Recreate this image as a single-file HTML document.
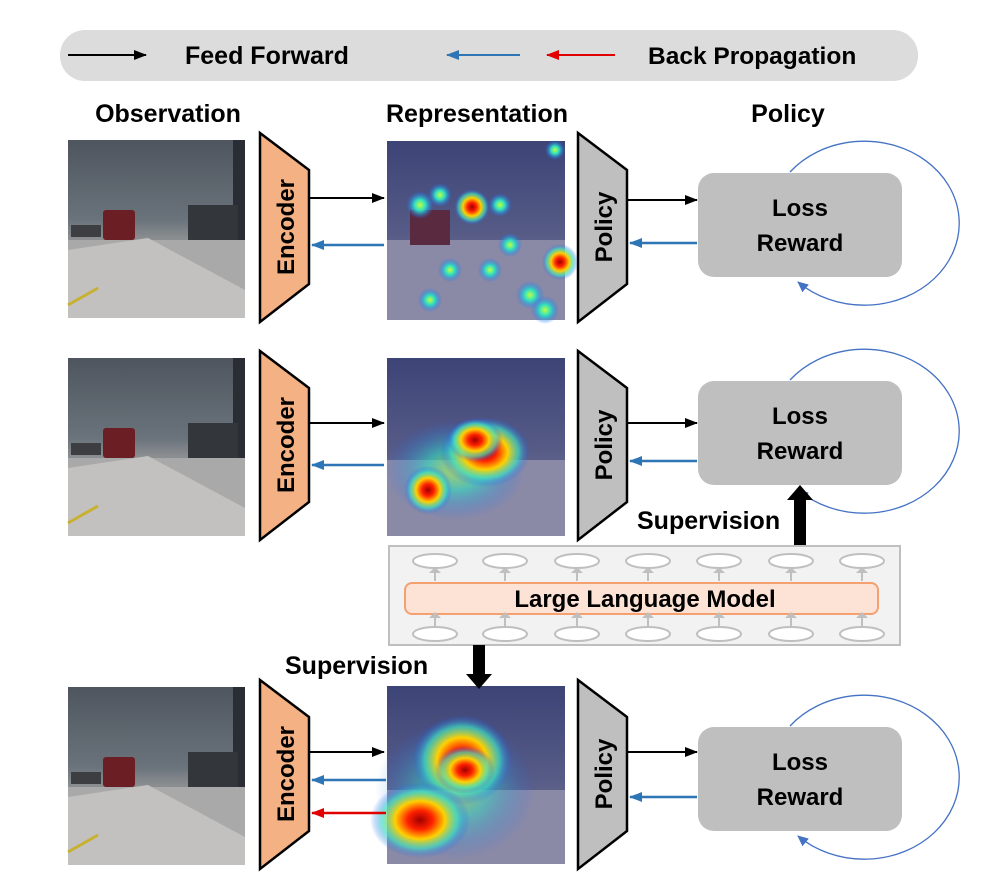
<!DOCTYPE html>
<html><head><meta charset="utf-8"><style>
html,body{margin:0;padding:0;background:#fff;}
svg{display:block;font-family:"Liberation Sans",Arial,sans-serif;}
</style></head><body>
<svg width="996" height="895" viewBox="0 0 996 895" xmlns="http://www.w3.org/2000/svg">
<defs>
<marker id="ab" markerWidth="14" markerHeight="10" refX="12" refY="5" orient="auto" markerUnits="userSpaceOnUse"><path d="M0,0 L13,5 L0,10 Z" fill="#2e75b6"/></marker>
<marker id="ar" markerWidth="14" markerHeight="10" refX="12" refY="5" orient="auto" markerUnits="userSpaceOnUse"><path d="M0,0 L13,5 L0,10 Z" fill="#e00000"/></marker>
<marker id="ablk" markerWidth="14" markerHeight="10" refX="12" refY="5" orient="auto" markerUnits="userSpaceOnUse"><path d="M0,0 L13,5 L0,10 Z" fill="#000"/></marker>
<marker id="ac" markerWidth="12" markerHeight="10" refX="10" refY="5" orient="auto" markerUnits="userSpaceOnUse"><path d="M0,0 L11,5 L0,10 Z" fill="#4472c4"/></marker>
<linearGradient id="sky" x1="0" y1="0" x2="0" y2="1">
<stop offset="0" stop-color="#4e555e"/><stop offset="0.45" stop-color="#6a737b"/><stop offset="0.55" stop-color="#8a8d90"/><stop offset="1" stop-color="#b8b8b8"/></linearGradient>
<linearGradient id="hsky" x1="0" y1="0" x2="0" y2="1">
<stop offset="0" stop-color="#3d4476"/><stop offset="0.5" stop-color="#555a86"/><stop offset="1" stop-color="#7f7f98"/></linearGradient>
<radialGradient id="hot"><stop offset="0" stop-color="#a00000"/><stop offset="0.25" stop-color="#ff2000"/><stop offset="0.5" stop-color="#ffd000"/><stop offset="0.75" stop-color="#40e0c0" stop-opacity="0.7"/><stop offset="1" stop-color="#2050ff" stop-opacity="0"/></radialGradient>
<radialGradient id="cool"><stop offset="0" stop-color="#c0ff40"/><stop offset="0.4" stop-color="#30e0c0"/><stop offset="1" stop-color="#2060ff" stop-opacity="0"/></radialGradient>
<g id="road">
<rect width="177" height="178" fill="url(#sky)"/>
<path d="M0,100 L177,100 L177,178 L0,178 Z" fill="#a9a9a9"/>
<path d="M0,110 L80,98 L177,150 L177,178 L0,178Z" fill="#c2c1c0"/>
<rect x="165" y="0" width="12" height="100" fill="#2a2d33"/>
<rect x="120" y="65" width="50" height="35" fill="#33363b"/>
<rect x="3" y="85" width="30" height="12" fill="#3c3e42"/>
<rect x="35" y="70" width="32" height="30" rx="3" fill="#6b1f25"/>
<path d="M0,165 L30,148" stroke="#c8b030" stroke-width="3"/>
</g>
<g id="pieces">
<path d="M260,133 L309,170 L309,284 L260,322 Z" fill="#f4b183" stroke="#000" stroke-width="2.5"/>
<text transform="translate(294,227) rotate(-90)" font-size="24" font-weight="bold" text-anchor="middle">Encoder</text>
<path d="M578,133 L627,170 L627,284 L578,322 Z" fill="#bfbfbf" stroke="#000" stroke-width="2.5"/>
<text transform="translate(612,227) rotate(-90)" font-size="24" font-weight="bold" text-anchor="middle">Policy</text>
</g>
</defs>

<rect x="60" y="30" width="858" height="51" rx="25" fill="#dcdcdc"/>
<line x1="68" y1="55" x2="146" y2="55" stroke="#000" stroke-width="2" marker-end="url(#ablk)"/>
<text x="185" y="64" font-size="25" font-weight="bold">Feed Forward</text>
<line x1="520" y1="55" x2="447" y2="55" stroke="#2e75b6" stroke-width="2" marker-end="url(#ab)"/>
<line x1="615" y1="55" x2="547" y2="55" stroke="#e00000" stroke-width="2" marker-end="url(#ar)"/>
<text x="648" y="64" font-size="24.5" font-weight="bold">Back Propagation</text>

<text x="168" y="122" font-size="25" font-weight="bold" text-anchor="middle">Observation</text>
<text x="477" y="122" font-size="25" font-weight="bold" text-anchor="middle">Representation</text>
<text x="788" y="122" font-size="25" font-weight="bold" text-anchor="middle">Policy</text>

<use href="#road" x="68" y="140"/><use href="#pieces"/>
<g transform="translate(0,218)"><use href="#road" x="68" y="140"/><use href="#pieces"/></g>
<g transform="translate(0,547)"><use href="#road" x="68" y="140"/><use href="#pieces"/></g>

<!-- heatmaps -->
<g>
<rect x="387" y="141" width="178" height="179" fill="url(#hsky)"/>
<path d="M387,240 L565,240 L565,320 L387,320Z" fill="#8a8aa6"/>
<rect x="410" y="210" width="40" height="35" fill="#5a2a40"/>
<circle cx="472" cy="207" r="18" fill="url(#hot)"/>
<circle cx="560" cy="262" r="18" fill="url(#hot)"/>
<circle cx="420" cy="205" r="14" fill="url(#cool)"/><circle cx="440" cy="195" r="12" fill="url(#cool)"/>
<circle cx="500" cy="205" r="12" fill="url(#cool)"/><circle cx="510" cy="245" r="12" fill="url(#cool)"/>
<circle cx="450" cy="270" r="12" fill="url(#cool)"/><circle cx="490" cy="270" r="12" fill="url(#cool)"/>
<circle cx="530" cy="295" r="14" fill="url(#cool)"/><circle cx="545" cy="310" r="14" fill="url(#cool)"/>
<circle cx="430" cy="300" r="12" fill="url(#cool)"/><circle cx="555" cy="150" r="10" fill="url(#cool)"/>
</g>
<g>
<rect x="387" y="358" width="178" height="178" fill="url(#hsky)"/>
<path d="M387,460 L565,460 L565,536 L387,536Z" fill="#8a8aa6"/>
<ellipse cx="455" cy="470" rx="70" ry="50" fill="url(#cool)" opacity="0.6"/>
<ellipse cx="485" cy="452" rx="45" ry="35" fill="url(#hot)"/>
<ellipse cx="475" cy="440" rx="28" ry="22" fill="url(#hot)"/>
<circle cx="428" cy="490" r="24" fill="url(#hot)"/>
</g>
<g>
<rect x="387" y="686" width="178" height="178" fill="url(#hsky)"/>
<path d="M387,790 L565,790 L565,864 L387,864Z" fill="#8a8aa6"/>
<ellipse cx="455" cy="790" rx="80" ry="70" fill="url(#cool)" opacity="0.5"/>
<ellipse cx="462" cy="760" rx="50" ry="45" fill="url(#hot)"/>
<ellipse cx="465" cy="770" rx="30" ry="24" fill="url(#hot)"/>
<ellipse cx="420" cy="820" rx="50" ry="38" fill="url(#hot)"/>
</g>

<line x1="310" y1="198" x2="384" y2="198" stroke="#000" stroke-width="2" marker-end="url(#ablk)"/>
<line x1="384" y1="245" x2="312" y2="245" stroke="#2e75b6" stroke-width="2.5" marker-end="url(#ab)"/>
<line x1="628" y1="200" x2="697" y2="200" stroke="#000" stroke-width="2" marker-end="url(#ablk)"/>
<line x1="697" y1="243" x2="630" y2="243" stroke="#2e75b6" stroke-width="2.5" marker-end="url(#ab)"/>
<line x1="310" y1="423" x2="384" y2="423" stroke="#000" stroke-width="2" marker-end="url(#ablk)"/>
<line x1="384" y1="465" x2="312" y2="465" stroke="#2e75b6" stroke-width="2.5" marker-end="url(#ab)"/>
<line x1="628" y1="423" x2="697" y2="423" stroke="#000" stroke-width="2" marker-end="url(#ablk)"/>
<line x1="697" y1="461" x2="630" y2="461" stroke="#2e75b6" stroke-width="2.5" marker-end="url(#ab)"/>
<line x1="310" y1="752" x2="384" y2="752" stroke="#000" stroke-width="2" marker-end="url(#ablk)"/>
<line x1="386" y1="780" x2="312" y2="780" stroke="#2e75b6" stroke-width="2.5" marker-end="url(#ab)"/>
<line x1="386" y1="813" x2="312" y2="813" stroke="#e00000" stroke-width="2.5" marker-end="url(#ar)"/>
<line x1="628" y1="752" x2="697" y2="752" stroke="#000" stroke-width="2" marker-end="url(#ablk)"/>
<line x1="697" y1="797" x2="630" y2="797" stroke="#2e75b6" stroke-width="2.5" marker-end="url(#ab)"/>

<g font-size="24" font-weight="bold" text-anchor="middle">
<rect x="698" y="173" width="204" height="104" rx="16" fill="#bfbfbf"/>
<text x="800" y="216">Loss</text><text x="800" y="251">Reward</text>
<rect x="698" y="381" width="204" height="104" rx="16" fill="#bfbfbf"/>
<text x="800" y="424">Loss</text><text x="800" y="459">Reward</text>
<rect x="698" y="727" width="204" height="104" rx="16" fill="#bfbfbf"/>
<text x="800" y="770">Loss</text><text x="800" y="805">Reward</text>
</g>
<g fill="none" stroke="#4472c4" stroke-width="1.3">
<path d="M790,172 A95,82 0 1 1 798,282" marker-end="url(#ac)"/>
<path d="M790,380 A95,82 0 1 1 798,490" marker-end="url(#ac)"/>
<path d="M790,726 A95,82 0 1 1 798,836" marker-end="url(#ac)"/>
</g>

<rect x="389" y="546" width="511" height="99" fill="#f2f2f2" stroke="#bfbfbf" stroke-width="2"/>
<rect x="405" y="583" width="473" height="31" rx="7" fill="#fde3d6" stroke="#f4a070" stroke-width="2"/>
<text x="645" y="607" font-size="24" font-weight="bold" text-anchor="middle">Large Language Model</text>
<g fill="#fff" stroke="#bfbfbf" stroke-width="2">
<ellipse cx="435" cy="561" rx="22" ry="7"/><ellipse cx="505" cy="561" rx="22" ry="7"/><ellipse cx="577" cy="561" rx="22" ry="7"/><ellipse cx="648" cy="561" rx="22" ry="7"/><ellipse cx="719" cy="561" rx="22" ry="7"/><ellipse cx="791" cy="561" rx="22" ry="7"/><ellipse cx="862" cy="561" rx="22" ry="7"/>
<ellipse cx="435" cy="634" rx="22" ry="7"/><ellipse cx="505" cy="634" rx="22" ry="7"/><ellipse cx="577" cy="634" rx="22" ry="7"/><ellipse cx="648" cy="634" rx="22" ry="7"/><ellipse cx="719" cy="634" rx="22" ry="7"/><ellipse cx="791" cy="634" rx="22" ry="7"/><ellipse cx="862" cy="634" rx="22" ry="7"/>
</g>
<g fill="#bfbfbf">
<path d="M434,581 v-8 h-5 l6,-6 6,6 h-5 v8z"/><path d="M504,581 v-8 h-5 l6,-6 6,6 h-5 v8z"/><path d="M576,581 v-8 h-5 l6,-6 6,6 h-5 v8z"/><path d="M647,581 v-8 h-5 l6,-6 6,6 h-5 v8z"/><path d="M718,581 v-8 h-5 l6,-6 6,6 h-5 v8z"/><path d="M790,581 v-8 h-5 l6,-6 6,6 h-5 v8z"/><path d="M861,581 v-8 h-5 l6,-6 6,6 h-5 v8z"/>
<path d="M434,626 v-8 h-5 l6,-6 6,6 h-5 v8z"/><path d="M504,626 v-8 h-5 l6,-6 6,6 h-5 v8z"/><path d="M576,626 v-8 h-5 l6,-6 6,6 h-5 v8z"/><path d="M647,626 v-8 h-5 l6,-6 6,6 h-5 v8z"/><path d="M718,626 v-8 h-5 l6,-6 6,6 h-5 v8z"/><path d="M790,626 v-8 h-5 l6,-6 6,6 h-5 v8z"/><path d="M861,626 v-8 h-5 l6,-6 6,6 h-5 v8z"/>
</g>
<path d="M794,545 V500 h-7 l13,-15 13,15 h-7 V545 z" fill="#000"/>
<text x="637" y="529" font-size="25" font-weight="bold">Supervision</text>
<path d="M473,645 V674 h-7 l13,15 13,-15 h-7 V645 z" fill="#000"/>
<text x="285" y="674" font-size="25" font-weight="bold">Supervision</text>
</svg>
</body></html>
